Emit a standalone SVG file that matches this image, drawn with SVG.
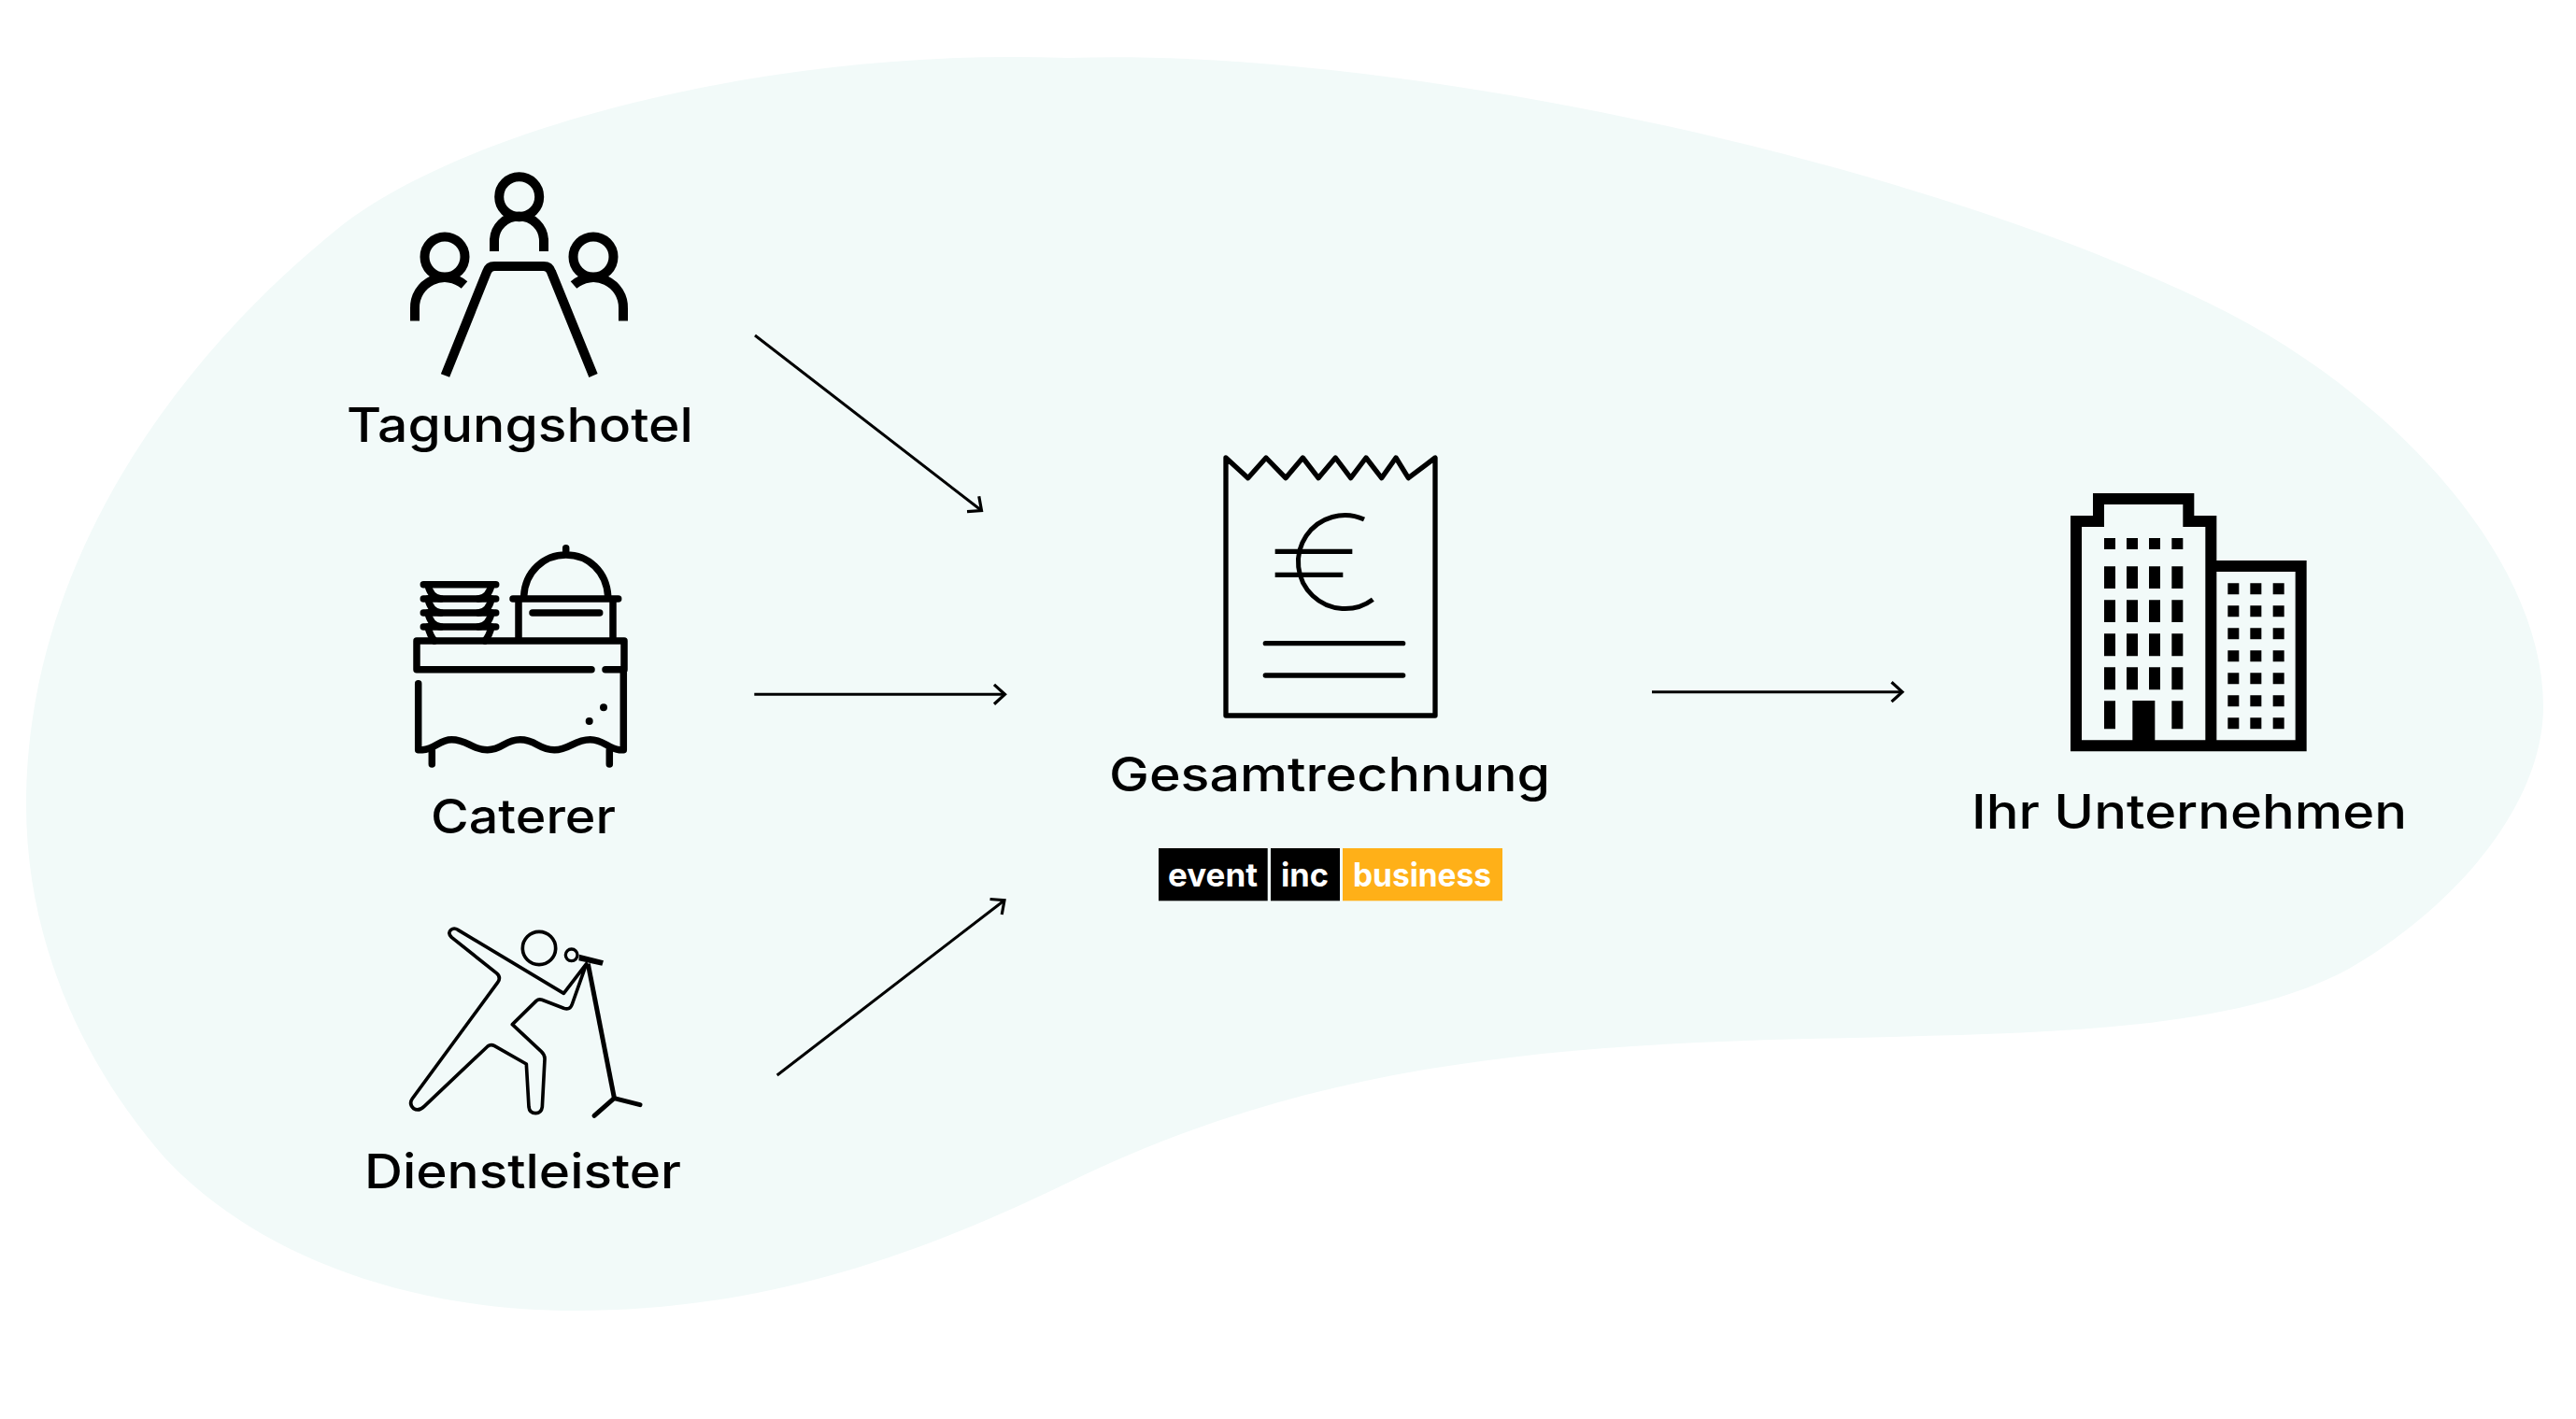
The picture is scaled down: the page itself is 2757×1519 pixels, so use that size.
<svg xmlns="http://www.w3.org/2000/svg" width="2757" height="1519" viewBox="0 0 2757 1519">
<style>
.lbl{font-family:"Inter","Open Sans","Liberation Sans",sans-serif;font-size:51px;font-weight:550;fill:#000}
.bdg{font-family:"Inter","Open Sans","Liberation Sans",sans-serif;font-size:35px;font-weight:700;fill:#fff}
.ln{fill:none;stroke:#000;stroke-linecap:butt;stroke-linejoin:round}
.rd{fill:none;stroke:#000;stroke-linecap:round;stroke-linejoin:round}
.con{fill:none;stroke:#000;stroke-width:3;marker-end:url(#arr)}
</style>
<defs>
<marker id="arr" markerUnits="userSpaceOnUse" viewBox="-16 -14 20 28" refX="0" refY="0" markerWidth="20" markerHeight="28" orient="auto"><path d="M-11.5,-10.4 L0,0 L-11.5,10.4" fill="none" stroke="#000" stroke-width="3.2"/></marker>
</defs>
<path id="blob" fill="#f2faf9" d="M360,246 C490,140 820,50 1143,62 C1500,50 2070,175 2385,335 C2565,428 2722,600 2722,756 C2722,860 2630,970 2514,1037 C2380,1110 2150,1106 1934,1112 C1650,1119 1400,1140 1143,1266 C950,1360 790,1403 615,1403 C430,1403 270,1340 176,1239 C90,1140 28,1010 28,861 C28,620 170,400 360,246 Z"/>
<g id="connectors">
<path class="con" d="M808,359 L1050.5,546.5"/>
<path class="con" d="M807.3,743.3 H1075.5"/>
<path class="con" d="M831.7,1151 L1075,963.7"/>
<path class="con" d="M1768,740.7 H2036"/>
</g>
<g id="tagungshotel">
<circle class="ln" cx="555.7" cy="210.7" r="21.5" stroke-width="10"/>
<circle class="ln" cx="476" cy="275" r="21.5" stroke-width="10"/>
<circle class="ln" cx="635" cy="275" r="21.5" stroke-width="10"/>
<path class="ln" stroke-width="10" d="M529,269 V258 A26.5,26.5 0 0 1 582,258 V269"/>
<path class="ln" stroke-width="10" d="M444,343.5 V330 A32,32 0 0 1 497,305"/>
<path class="ln" stroke-width="10" d="M667,343.5 V330 A32,32 0 0 0 614,305"/>
<path class="ln" stroke-width="10" d="M476.5,402 L521,291 Q523,285 529,285 H582 Q588,285 590,291 L635,402"/>
<text class="lbl" x="371" y="473" textLength="371" lengthAdjust="spacingAndGlyphs">Tagungshotel</text>
</g>
<g id="caterer">
<g class="rd" stroke-width="7.5">
<path d="M453.3,625.7 H530.7 M453.3,641 H530.7 M453.3,656 H530.7 M453.3,671 H530.7"/>
<path d="M458,626 Q461,640 472,641 M526,626 Q523,640 512,641 M458,641 Q461,655 472,656 M526,641 Q523,655 512,656 M458,656 Q461,670 472,671 M526,656 Q523,670 512,671 M458,671 Q460,680 465,686 M526,671 Q524,680 519,686"/>
<path d="M549,641 H661.7 M560.7,638 C562,612 582,594 605.7,594 C630,594 649,612 650.7,638 M605.7,586.7 V593 M555,643 V685 M656,643 V685 M570,656 H641.7"/>
<path d="M648,716.7 H668 V686 H446 V716.7 H633"/>
<path d="M447.7,731.7 V802.7 H452 C466,802 470,791.7 483.3,791.7 C500,791.7 505,802.7 521.7,802.7 C538,802.7 540,791.7 556.7,791.7 C574,791.7 576,802.7 593.3,802.7 C610,802.7 614,791.7 631.7,791.7 C646,791.7 650,801 663,802.7 H667.3 V716.7"/>
<path d="M462.3,803 V818 M652.3,803 V818"/>
</g>
<circle cx="646" cy="757.3" r="4"/><circle cx="630.7" cy="772" r="4"/>
<text class="lbl" x="461" y="892" textLength="198" lengthAdjust="spacingAndGlyphs">Caterer</text>
</g>
<g id="dienstleister">
<g transform="translate(400,960) scale(.33333)">
<path class="rd" stroke-width="11" d="M270,106 L610,310 L683,215 L637,345 Q630,365 610,358 L540,331 Q530,327 522,334 L445,410 L538,497 Q550,508 549,522 L541,675 Q538,695 520,695 Q500,695 498,675 L490,537 L388,479 Q376,472 366,480 L162,673 Q145,690 128,680 Q112,665 124,648 L398,275 Q410,258 394,245 L250,130 Q236,116 248,106 Q258,98 270,106 Z"/>
<circle class="ln" cx="531" cy="165" r="53" stroke-width="11"/>
<circle class="ln" cx="635" cy="187" r="19" stroke-width="10"/>
<path d="M660,185 L738,205 L733,221 L658,205 Z"/>
<path class="ln" stroke-width="15" d="M688,215 L772,645"/>
<path class="rd" stroke-width="15" d="M708,703 L772,647 L855,668"/>
</g>
<text class="lbl" x="390" y="1272" textLength="339" lengthAdjust="spacingAndGlyphs">Dienstleister</text>
</g>
<g id="gesamtrechnung">
<g transform="translate(1200,470) scale(.33333)">
<path class="ln" stroke-width="16" d="M336,888 V60 L407,125 L465,60 L528,125 L583,60 L633,125 L688,60 L737,125 L786,60 L836,125 L882,60 L922,125 L1008,60 V888 Z"/>
<path class="ln" stroke-width="15" d="M780,258 A150,150 0 1 0 808,515"/>
<path class="ln" stroke-width="16" d="M494,361 H742 M494,436 H712"/>
<path class="rd" stroke-width="16" d="M463,656 H905 M463,759 H905"/>
</g>
<text class="lbl" x="1187" y="847" textLength="472" lengthAdjust="spacingAndGlyphs">Gesamtrechnung</text>
<rect x="1240" y="908" width="116.7" height="56.3"/>
<rect x="1360" y="908" width="74" height="56.3"/>
<rect x="1437" y="908" width="171" height="56.3" fill="#ffb018"/>
<text class="bdg" x="1250" y="949" textLength="96" lengthAdjust="spacingAndGlyphs">event</text>
<text class="bdg" x="1371" y="949" textLength="51" lengthAdjust="spacingAndGlyphs">inc</text>
<text class="bdg" x="1448" y="949" textLength="148" lengthAdjust="spacingAndGlyphs">business</text>
</g>
<g id="unternehmen">
<g transform="translate(2190,510) scale(.33333)">
<path fill-rule="evenodd" d="M78,883 V126 H150 V54 H475 V126 H547 V270 H836 V883 Z M114,847 H511 V162 H439 V90 H186 V162 H114 Z M547,847 H800 V306 H547 Z"/>
<path d="M277,720 H349 V850 H277 Z M186,198 h36 v36 h-36 Z M258,198 h36 v36 h-36 Z M330,198 h36 v36 h-36 Z M403,198 h36 v36 h-36 Z
M186,289 h36 v71 h-36 Z M258,289 h36 v71 h-36 Z M330,289 h36 v71 h-36 Z M403,289 h36 v71 h-36 Z
M186,397 h36 v71 h-36 Z M258,397 h36 v71 h-36 Z M330,397 h36 v71 h-36 Z M403,397 h36 v71 h-36 Z
M186,505 h36 v72 h-36 Z M258,505 h36 v72 h-36 Z M330,505 h36 v72 h-36 Z M403,505 h36 v72 h-36 Z
M186,613 h36 v72 h-36 Z M258,613 h36 v72 h-36 Z M330,613 h36 v72 h-36 Z M403,613 h36 v72 h-36 Z
M186,721 h36 v90 h-36 Z M403,721 h36 v90 h-36 Z"/>
<path d="M583,343 h36 v36 h-36 Z M655,343 h36 v36 h-36 Z M728,343 h36 v36 h-36 Z
M583,415 h36 v36 h-36 Z M655,415 h36 v36 h-36 Z M728,415 h36 v36 h-36 Z
M583,487 h36 v36 h-36 Z M655,487 h36 v36 h-36 Z M728,487 h36 v36 h-36 Z
M583,559 h36 v36 h-36 Z M655,559 h36 v36 h-36 Z M728,559 h36 v36 h-36 Z
M583,631 h36 v36 h-36 Z M655,631 h36 v36 h-36 Z M728,631 h36 v36 h-36 Z
M583,703 h36 v36 h-36 Z M655,703 h36 v36 h-36 Z M728,703 h36 v36 h-36 Z
M583,775 h36 v36 h-36 Z M655,775 h36 v36 h-36 Z M728,775 h36 v36 h-36 Z"/>
</g>
<text class="lbl" x="2110" y="886.5" textLength="466" lengthAdjust="spacingAndGlyphs">Ihr Unternehmen</text>
</g>
</svg>
